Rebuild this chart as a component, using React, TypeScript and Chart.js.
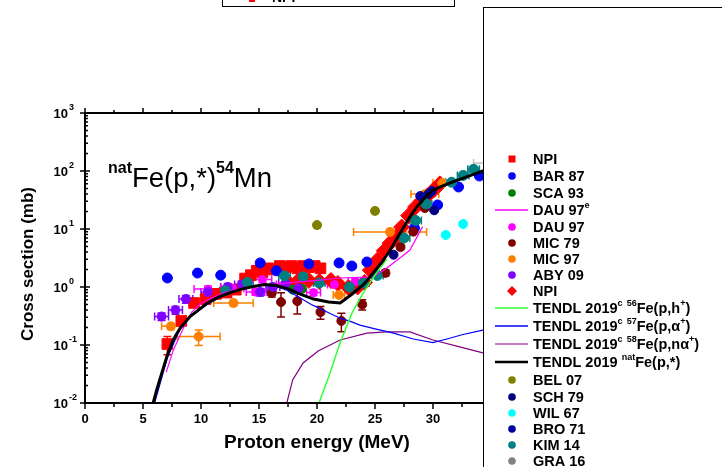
import React, { useEffect, useRef } from "react";
import { Chart, registerables } from "chart.js";
Chart.register(...registerables);

const FONT = '"Liberation Sans", Arial, Helvetica, sans-serif';
const X_MIN = 0;
const X_MAX = 34.31;
const Y_MIN = 0.01;
const Y_MAX = 1000;
const xTickValues = [0, 5, 10, 15, 20, 25, 30];
const yTickExponents = [-2, -1, 0, 1, 2, 3];

// ---------- experimental data (energy MeV, cross section mb) ----------
const npiSqE = [7.1, 8.3, 9.4, 10.4, 11.3, 12.2, 13.0, 13.8, 14.3, 14.8, 15.3, 15.8, 16.3, 16.8, 17.3, 17.8, 18.3, 18.8, 19.3, 19.8, 20.3];
const npiSqS = [0.104, 0.26, 0.53, 0.62, 0.76, 0.8, 0.9, 1.4, 1.6, 1.9, 1.8, 2.1, 2.0, 2.3, 2.2, 2.3, 2.1, 2.3, 2.2, 2.3, 2.1];
const npiSqYErr = [0.35, 0.12, 0.1, 0.1, 0.1, 0.1, 0.1, 0.1, 0.1, 0.1, 0.1, 0.1, 0.1, 0.1, 0.1, 0.1, 0.1, 0.1, 0.1, 0.1, 0.1];

const npiDiE = [17.6, 18.4, 19.3, 20.2, 21.2, 21.8, 22.7, 23.5, 24.1, 24.6, 25.2, 25.8, 26.3, 26.8, 27.3, 27.9, 28.5, 29.0, 29.5, 30.1, 30.6];
const npiDiS = [1.15, 1.3, 1.3, 1.25, 1.3, 1.15, 0.98, 1.0, 1.2, 1.95, 2.9, 4.2, 5.7, 7.3, 10.8, 17, 24, 30, 37, 48, 60];

const bar87E = [7.1, 9.7, 11.7, 15.1, 16.5, 19.3, 21.9, 23.0, 24.3, 28.4, 30.4, 32.2, 34.0];
const bar87S = [1.43, 1.74, 1.6, 2.6, 1.9, 2.5, 2.6, 2.3, 2.7, 10.4, 26, 53, 82];

const sca93E = [17.9, 18.7];
const sca93S = [0.9, 0.93];

const dau97E = [10.6, 12.7, 14.7, 15.3, 17.2, 19.7, 21.5, 23.3];
const dau97S = [0.92, 0.95, 0.82, 1.35, 1.1, 0.8, 1.1, 1.25];
const dau97XErr = [1.2, 1.0, 0.8, 0.8, 0.7, 0.6, 0.6, 0.6];
const dau97YErr = [0.12, 0.12, 0.12, 0.12, 0.12, 0.12, 0.12, 0.12];

const mic79E = [16.1, 16.9, 18.3, 20.3, 22.1, 23.9, 25.9, 27.2, 28.3, 29.3];
const mic79S = [0.79, 0.55, 0.57, 0.37, 0.26, 0.5, 1.75, 4.9, 9, 23];
const mic79YErr = [0.15, 0.45, 0.4, 0.25, 0.35, 0.2, 0.12, 0.1, 0.1, 0.08];

const mic97E = [7.4, 9.8, 12.8, 21.9, 26.3, 29.3, 30.8];
const mic97S = [0.21, 0.14, 0.53, 0.73, 8.9, 40, 62];
const mic97XErr = [0.8, 1.85, 1.7, 0.5, 3.15, 1.2, 0.8];
const mic97YErr = [0.12, 0.3, 0.1, 0.1, 0.12, 0.1, 0.08];

const aby09E = [6.6, 7.8, 8.7, 10.6, 12.3, 13.5, 15.1, 16.2, 17.3, 18.4];
const aby09S = [0.31, 0.4, 0.62, 0.82, 1.0, 1.1, 0.82, 1.0, 1.15, 0.95];
const aby09XErr = [0.6, 0.6, 0.6, 0.6, 0.6, 0.6, 0.6, 0.6, 0.6, 0.6];
const aby09YErr = [0.15, 0.15, 0.15, 0.15, 0.15, 0.15, 0.15, 0.15, 0.15, 0.15];

const kim14E = [12.1, 14.0, 17.2, 18.8, 20.2, 22.8, 24.0, 25.2, 27.5, 28.5, 29.4, 31.6, 32.6, 33.5];
const kim14S = [0.86, 1.2, 1.55, 1.5, 1.17, 1.0, 1.17, 1.58, 7, 14, 27, 64, 84, 107];
const kim14XErr = [0.5, 0.5, 0.5, 0.5, 0.5, 0.5, 0.5, 0.5, 0.5, 0.5, 0.5, 0.5, 0.5, 0.5];

const bel07E = [20.0, 25.0];
const bel07S = [11.7, 20.5];
const bel07YErr = [0.1, 0.1];

const sch79E = [26.6, 29.6, 30.1];
const sch79S = [3.6, 40, 21];

const wil67E = [31.1, 32.6];
const wil67S = [7.9, 12.2];

const bro71E = [28.9, 29.9];
const bro71S = [37, 45];

const gra16E = [35.6];
const gra16S = [137];
const gra16XErr = [2.1];

// ---------- evaluated curves ----------
const dau97eE = [7.0, 7.6, 8.5, 9.2, 10.0, 11.0, 12.0, 14.0, 16.0, 18.0, 20.0, 22.0, 24.8, 26.0, 28.0, 29.1];
const dau97eS = [0.034, 0.08, 0.2, 0.37, 0.52, 0.66, 0.8, 1.0, 1.1, 1.2, 1.3, 1.43, 1.49, 2.1, 4.3, 11];

const t56E = [20.17, 21.0, 22.0, 23.0, 24.0, 25.0, 26.0];
const t56S = [0.01, 0.028, 0.11, 0.35, 0.8, 1.6, 3.0];

const t57E = [6.0, 7.1, 8.2, 9.0, 10.5, 12.5, 14.0, 15.3, 16.5, 17.5, 18.5, 19.5, 20.0, 21.0, 22.0, 23.0, 23.7, 25.0, 26.6, 28.3, 30.0, 31.2, 32.5, 34.3, 35.0];
const t57S = [0.01, 0.06, 0.19, 0.3, 0.5, 0.82, 0.97, 1.08, 1.02, 0.86, 0.66, 0.5, 0.45, 0.36, 0.29, 0.25, 0.22, 0.19, 0.16, 0.127, 0.11, 0.127, 0.15, 0.18, 0.19];

const t58E = [17.3, 17.4, 17.9, 18.8, 20.1, 22.0, 24.3, 26.0, 28.0, 30.0, 32.3, 34.3, 35.0];
const t58S = [0.008, 0.01, 0.025, 0.049, 0.079, 0.122, 0.16, 0.168, 0.168, 0.122, 0.093, 0.073, 0.068];

const tnatE = [5.89, 6.18, 6.61, 7.1, 7.6, 8.19, 9.05, 10.5, 11.5, 12.5, 13.5, 14.5, 15.5, 16.5, 17.5, 18.5, 19.7, 21.0, 22.0, 23.0, 24.0, 24.8, 25.6, 26.3, 27.0, 27.5, 28.0, 28.6, 29.3, 30.0, 31.0, 32.0, 32.9, 34.3, 35.0];
const tnatS = [0.0102, 0.0168, 0.0325, 0.067, 0.122, 0.194, 0.31, 0.52, 0.67, 0.8, 0.92, 1.02, 1.1, 1.06, 0.93, 0.76, 0.62, 0.55, 0.53, 0.75, 1.1, 1.7, 2.7, 4.3, 7.5, 11, 16, 24, 35, 47, 57, 68, 79, 100, 110];

type Part = [string, number];
type LegendItem = { parts: Part[]; color: string; kind: "square" | "dot" | "diamond" | "line"; width?: number };

const legendItems: LegendItem[] = [
  { parts: [["NPI", 0]], color: "#FF0000", kind: "square" },
  { parts: [["BAR 87", 0]], color: "#0000FF", kind: "dot" },
  { parts: [["SCA 93", 0]], color: "#008000", kind: "dot" },
  { parts: [["DAU 97", 0], ["e", 1]], color: "#FF00FF", kind: "line", width: 1.5 },
  { parts: [["DAU 97", 0]], color: "#FF00FF", kind: "dot" },
  { parts: [["MIC 79", 0]], color: "#800000", kind: "dot" },
  { parts: [["MIC 97", 0]], color: "#FF8000", kind: "dot" },
  { parts: [["ABY 09", 0]], color: "#8000FF", kind: "dot" },
  { parts: [["NPI", 0]], color: "#FF0000", kind: "diamond" },
  { parts: [["TENDL 2019", 0], ["c", 1], [" ", 0], ["56", 1], ["Fe(p,h", 0], ["+", 1], [")", 0]], color: "#66FF66", kind: "line", width: 2 },
  { parts: [["TENDL 2019", 0], ["c", 1], [" ", 0], ["57", 1], ["Fe(p,\u03b1", 0], ["+", 1], [")", 0]], color: "#0000FF", kind: "line", width: 1.5 },
  { parts: [["TENDL 2019", 0], ["c", 1], [" ", 0], ["58", 1], ["Fe(p,n\u03b1", 0], ["+", 1], [")", 0]], color: "#C080C0", kind: "line", width: 2 },
  { parts: [["TENDL 2019 ", 0], ["nat", 1], ["Fe(p,*)", 0]], color: "#000000", kind: "line", width: 2.5 },
  { parts: [["BEL 07", 0]], color: "#808000", kind: "dot" },
  { parts: [["SCH 79", 0]], color: "#000080", kind: "dot" },
  { parts: [["WIL 67", 0]], color: "#00FFFF", kind: "dot" },
  { parts: [["BRO 71", 0]], color: "#0000A0", kind: "dot" },
  { parts: [["KIM 14", 0]], color: "#008080", kind: "dot" },
  { parts: [["GRA 16", 0]], color: "#808080", kind: "dot" },
];

const toPts = (xs: number[], ys: number[]) => xs.map((x, i) => ({ x, y: ys[i] }));

function pointSet(label: string, xs: number[], ys: number[], color: string, style: any, radius: number, order: number, extra: any = {}) {
  return {
    label,
    data: toPts(xs, ys),
    showLine: false,
    pointStyle: style,
    pointRadius: radius,
    pointBackgroundColor: color,
    pointBorderColor: color,
    pointBorderWidth: 1,
    backgroundColor: color,
    borderColor: color,
    order,
    ...extra,
  };
}

function lineSet(label: string, xs: number[], ys: number[], color: string, width: number, order: number) {
  return {
    label,
    data: toPts(xs, ys),
    showLine: true,
    pointRadius: 0,
    borderColor: color,
    backgroundColor: color,
    borderWidth: width,
    tension: 0,
    fill: false,
    order,
  };
}

function drawRich(ctx: CanvasRenderingContext2D, parts: Part[], x: number, y: number, size: number, supSize: number, raise: number, bold: boolean, supBold: boolean, align: "left" | "center") {
  const f = (sup: number) => `${(sup ? supBold : bold) ? "bold " : ""}${sup ? supSize : size}px ${FONT}`;
  let total = 0;
  for (const p of parts) {
    ctx.font = f(p[1]);
    total += ctx.measureText(p[0]).width;
  }
  let cx = align === "center" ? x - total / 2 : x;
  ctx.textAlign = "left";
  ctx.textBaseline = "alphabetic";
  for (const p of parts) {
    ctx.font = f(p[1]);
    ctx.fillText(p[0], cx, p[1] ? y - raise : y);
    cx += ctx.measureText(p[0]).width;
  }
}

const errorBarPlugin = {
  id: "errorBars",
  beforeDatasetsDraw(chart: any) {
    const { ctx, chartArea: a, scales } = chart;
    const xs = scales.x;
    const ys = scales.y;
    ctx.save();
    ctx.beginPath();
    ctx.rect(a.left, a.top, a.right - a.left, a.bottom - a.top);
    ctx.clip();
    chart.data.datasets.forEach((ds: any) => {
      if (!ds.xerr && !ds.yerr) return;
      ctx.strokeStyle = ds.errColor || ds.borderColor;
      ctx.lineWidth = 1.5;
      ds.data.forEach((p: any, i: number) => {
        const px = xs.getPixelForValue(p.x);
        const py = ys.getPixelForValue(p.y);
        ctx.beginPath();
        if (ds.xerr) {
          const l = xs.getPixelForValue(p.x - ds.xerr[i]);
          const r = xs.getPixelForValue(p.x + ds.xerr[i]);
          ctx.moveTo(l, py); ctx.lineTo(r, py);
          ctx.moveTo(l, py - 4); ctx.lineTo(l, py + 4);
          ctx.moveTo(r, py - 4); ctx.lineTo(r, py + 4);
        }
        if (ds.yerr) {
          const t = ys.getPixelForValue(p.y * (1 + ds.yerr[i]));
          const b = ys.getPixelForValue(p.y * (1 - ds.yerr[i]));
          ctx.moveTo(px, t); ctx.lineTo(px, b);
          ctx.moveTo(px - 4, t); ctx.lineTo(px + 4, t);
          ctx.moveTo(px - 4, b); ctx.lineTo(px + 4, b);
        }
        ctx.stroke();
      });
    });
    ctx.restore();
  },
};

const framePlugin = {
  id: "frame",
  afterDraw(chart: any) {
    const { ctx, chartArea: a, scales } = chart;
    const xs = scales.x;
    const ys = scales.y;
    ctx.save();
    ctx.strokeStyle = "#000";
    ctx.fillStyle = "#000";
    ctx.lineWidth = 2;
    ctx.beginPath();
    ctx.moveTo(a.right + 5, a.top); ctx.lineTo(a.left, a.top); ctx.lineTo(a.left, a.bottom); ctx.lineTo(a.right + 5, a.bottom);
    ctx.stroke();
    // x ticks
    ctx.lineWidth = 1.5;
    ctx.beginPath();
    for (let v = X_MIN; v <= X_MAX; v += 2.5) {
      const px = xs.getPixelForValue(v);
      const major = Math.abs(v % 5) < 1e-6;
      ctx.moveTo(px, a.bottom); ctx.lineTo(px, a.bottom + (major ? 6 : 4));
      ctx.moveTo(px, a.top); ctx.lineTo(px, a.top - (major ? 5 : 3));
    }
    ctx.stroke();
    ctx.font = `bold 13px ${FONT}`;
    ctx.textAlign = "center";
    ctx.textBaseline = "middle";
    for (const v of xTickValues) {
      ctx.fillText(String(v), xs.getPixelForValue(v), a.bottom + 16);
    }
    // y ticks
    ctx.beginPath();
    for (const e of yTickExponents) {
      const py = ys.getPixelForValue(Math.pow(10, e));
      ctx.moveTo(a.left - 5, py); ctx.lineTo(a.left + 5, py);
      if (e < 3) {
        for (let m = 2; m <= 9; m++) {
          const q = ys.getPixelForValue(m * Math.pow(10, e));
          ctx.moveTo(a.left, q); ctx.lineTo(a.left + 3, q);
        }
      }
    }
    ctx.stroke();
    for (const e of yTickExponents) {
      const py = ys.getPixelForValue(Math.pow(10, e));
      ctx.font = `bold 13px ${FONT}`;
      ctx.textAlign = "right";
      ctx.textBaseline = "middle";
      ctx.fillText("10", a.left - 17, py + 1);
      ctx.font = `bold 9px ${FONT}`;
      ctx.textAlign = "left";
      ctx.fillText(String(e), a.left - 16, py - 5);
    }
    // axis titles
    ctx.font = `bold 19px ${FONT}`;
    ctx.textAlign = "center";
    ctx.textBaseline = "middle";
    ctx.fillText("Proton energy (MeV)", 317, a.bottom + 40);
    ctx.save();
    ctx.translate(28, 264);
    ctx.rotate(-Math.PI / 2);
    ctx.font = `bold 17px ${FONT}`;
    ctx.fillText("Cross section (mb)", 0, 0);
    ctx.restore();
    // reaction label
    drawRich(ctx, [["nat", 1], ["Fe(p,*)", 0], ["54", 1], ["Mn", 0]], 108, 187, 27.5, 16, 14, false, true, "left");
    ctx.restore();
  },
};

const legendPlugin = {
  id: "boxLegend",
  afterDraw(chart: any) {
    const { ctx } = chart;
    ctx.save();
    // partial top box
    ctx.fillStyle = "#fff";
    ctx.fillRect(222, -10, 233, 16);
    ctx.strokeStyle = "#000";
    ctx.lineWidth = 1;
    ctx.strokeRect(222.5, -10, 232, 16.5);
    ctx.fillStyle = "#FF0000";
    ctx.fillRect(249, -3, 6, 5);
    ctx.fillStyle = "#000";
    ctx.font = `bold 14px ${FONT}`;
    ctx.textAlign = "left";
    ctx.textBaseline = "alphabetic";
    ctx.fillText("NPI", 272, 2);
    // right legend box
    ctx.fillStyle = "#fff";
    ctx.fillRect(483, 7, 300, 500);
    ctx.strokeStyle = "#000";
    ctx.lineWidth = 1;
    ctx.strokeRect(483.5, 7.5, 300, 500);
    const rows = [159, 176, 193, 210, 227, 243, 259, 275, 291, 308, 326, 344, 362, 380, 397, 413, 429, 445, 461];
    legendItems.forEach((it, i) => {
      const y = rows[i];
      const mx = 512;
      ctx.fillStyle = it.color;
      ctx.strokeStyle = it.color;
      if (it.kind === "square") {
        ctx.fillRect(mx - 3.5, y - 3.5, 7, 7);
      } else if (it.kind === "dot") {
        ctx.beginPath(); ctx.arc(mx, y, 3.8, 0, Math.PI * 2); ctx.fill();
      } else if (it.kind === "diamond") {
        ctx.beginPath(); ctx.moveTo(mx - 5, y); ctx.lineTo(mx, y - 5); ctx.lineTo(mx + 5, y); ctx.lineTo(mx, y + 5); ctx.closePath(); ctx.fill();
      } else {
        ctx.lineWidth = it.width || 1.5;
        ctx.beginPath(); ctx.moveTo(495, y); ctx.lineTo(528, y); ctx.stroke();
      }
      ctx.fillStyle = "#000";
      drawRich(ctx, it.parts, 533, y + 5, 14.5, 9, 7, true, true, "left");
    });
    ctx.restore();
  },
};

export default function App() {
  const ref = useRef<HTMLCanvasElement>(null);
  useEffect(() => {
    const canvas = ref.current;
    if (!canvas) return;
    const datasets: any[] = [
      lineSet("TENDL 2019 natFe(p,*)", tnatE, tnatS, "#000000", 3, 0),
      lineSet("TENDL 2019c 56Fe(p,h+)", t56E, t56S, "#33FF33", 1.5, 1),
      lineSet("TENDL 2019c 57Fe(p,a+)", t57E, t57S, "#0000FF", 1.2, 1),
      lineSet("TENDL 2019c 58Fe(p,na+)", t58E, t58S, "#800080", 1.2, 1),
      lineSet("DAU 97e", dau97eE, dau97eS, "#FF00FF", 1.2, 2),
      pointSet("GRA 16", gra16E, gra16S, "#808080", "circle", 4.5, 3, { xerr: gra16XErr, errColor: "#C0C0C0" }),
      pointSet("KIM 14", kim14E, kim14S, "#008080", "circle", 5, 3, { xerr: kim14XErr }),
      pointSet("BRO 71", bro71E, bro71S, "#0000A0", "circle", 4.5, 4),
      pointSet("WIL 67", wil67E, wil67S, "#00FFFF", "circle", 4.5, 4),
      pointSet("SCH 79", sch79E, sch79S, "#000080", "circle", 4.5, 4),
      pointSet("BEL 07", bel07E, bel07S, "#808000", "circle", 4.5, 4, { yerr: bel07YErr }),
      pointSet("ABY 09", aby09E, aby09S, "#8000FF", "circle", 4.5, 5, { xerr: aby09XErr, yerr: aby09YErr }),
      pointSet("MIC 97", mic97E, mic97S, "#FF8000", "circle", 4.5, 5, { xerr: mic97XErr, yerr: mic97YErr }),
      pointSet("MIC 79", mic79E, mic79S, "#800000", "circle", 4.5, 5, { yerr: mic79YErr }),
      pointSet("DAU 97", dau97E, dau97S, "#FF00FF", "circle", 4, 6, { xerr: dau97XErr, yerr: dau97YErr }),
      pointSet("SCA 93", sca93E, sca93S, "#008000", "circle", 4.5, 6),
      pointSet("BAR 87", bar87E, bar87S, "#0000FF", "circle", 5, 6),
      pointSet("NPI diamonds", npiDiE, npiDiS, "#FF0000", "rectRot", 8, 7),
      pointSet("NPI squares", npiSqE, npiSqS, "#FF0000", "rect", 7.5, 8, { yerr: npiSqYErr }),
    ];
    const chart = new Chart(canvas, {
      type: "scatter",
      data: { datasets },
      options: {
        responsive: false,
        animation: false,
        events: [],
        layout: { padding: { left: 85, top: 113, right: 722 - 483, bottom: 467 - 403 } },
        plugins: { legend: { display: false }, tooltip: { enabled: false }, title: { display: false } },
        scales: {
          x: { type: "linear", min: X_MIN, max: X_MAX, display: false },
          y: { type: "logarithmic", min: Y_MIN, max: Y_MAX, display: false },
        },
      } as any,
      plugins: [errorBarPlugin, framePlugin, legendPlugin],
    });
    return () => chart.destroy();
  }, []);
  return (
    <canvas
      ref={ref}
      width={722}
      height={467}
      style={{ position: "fixed", left: 0, top: 0, width: 722, height: 467, background: "#fff" }}
    />
  );
}
